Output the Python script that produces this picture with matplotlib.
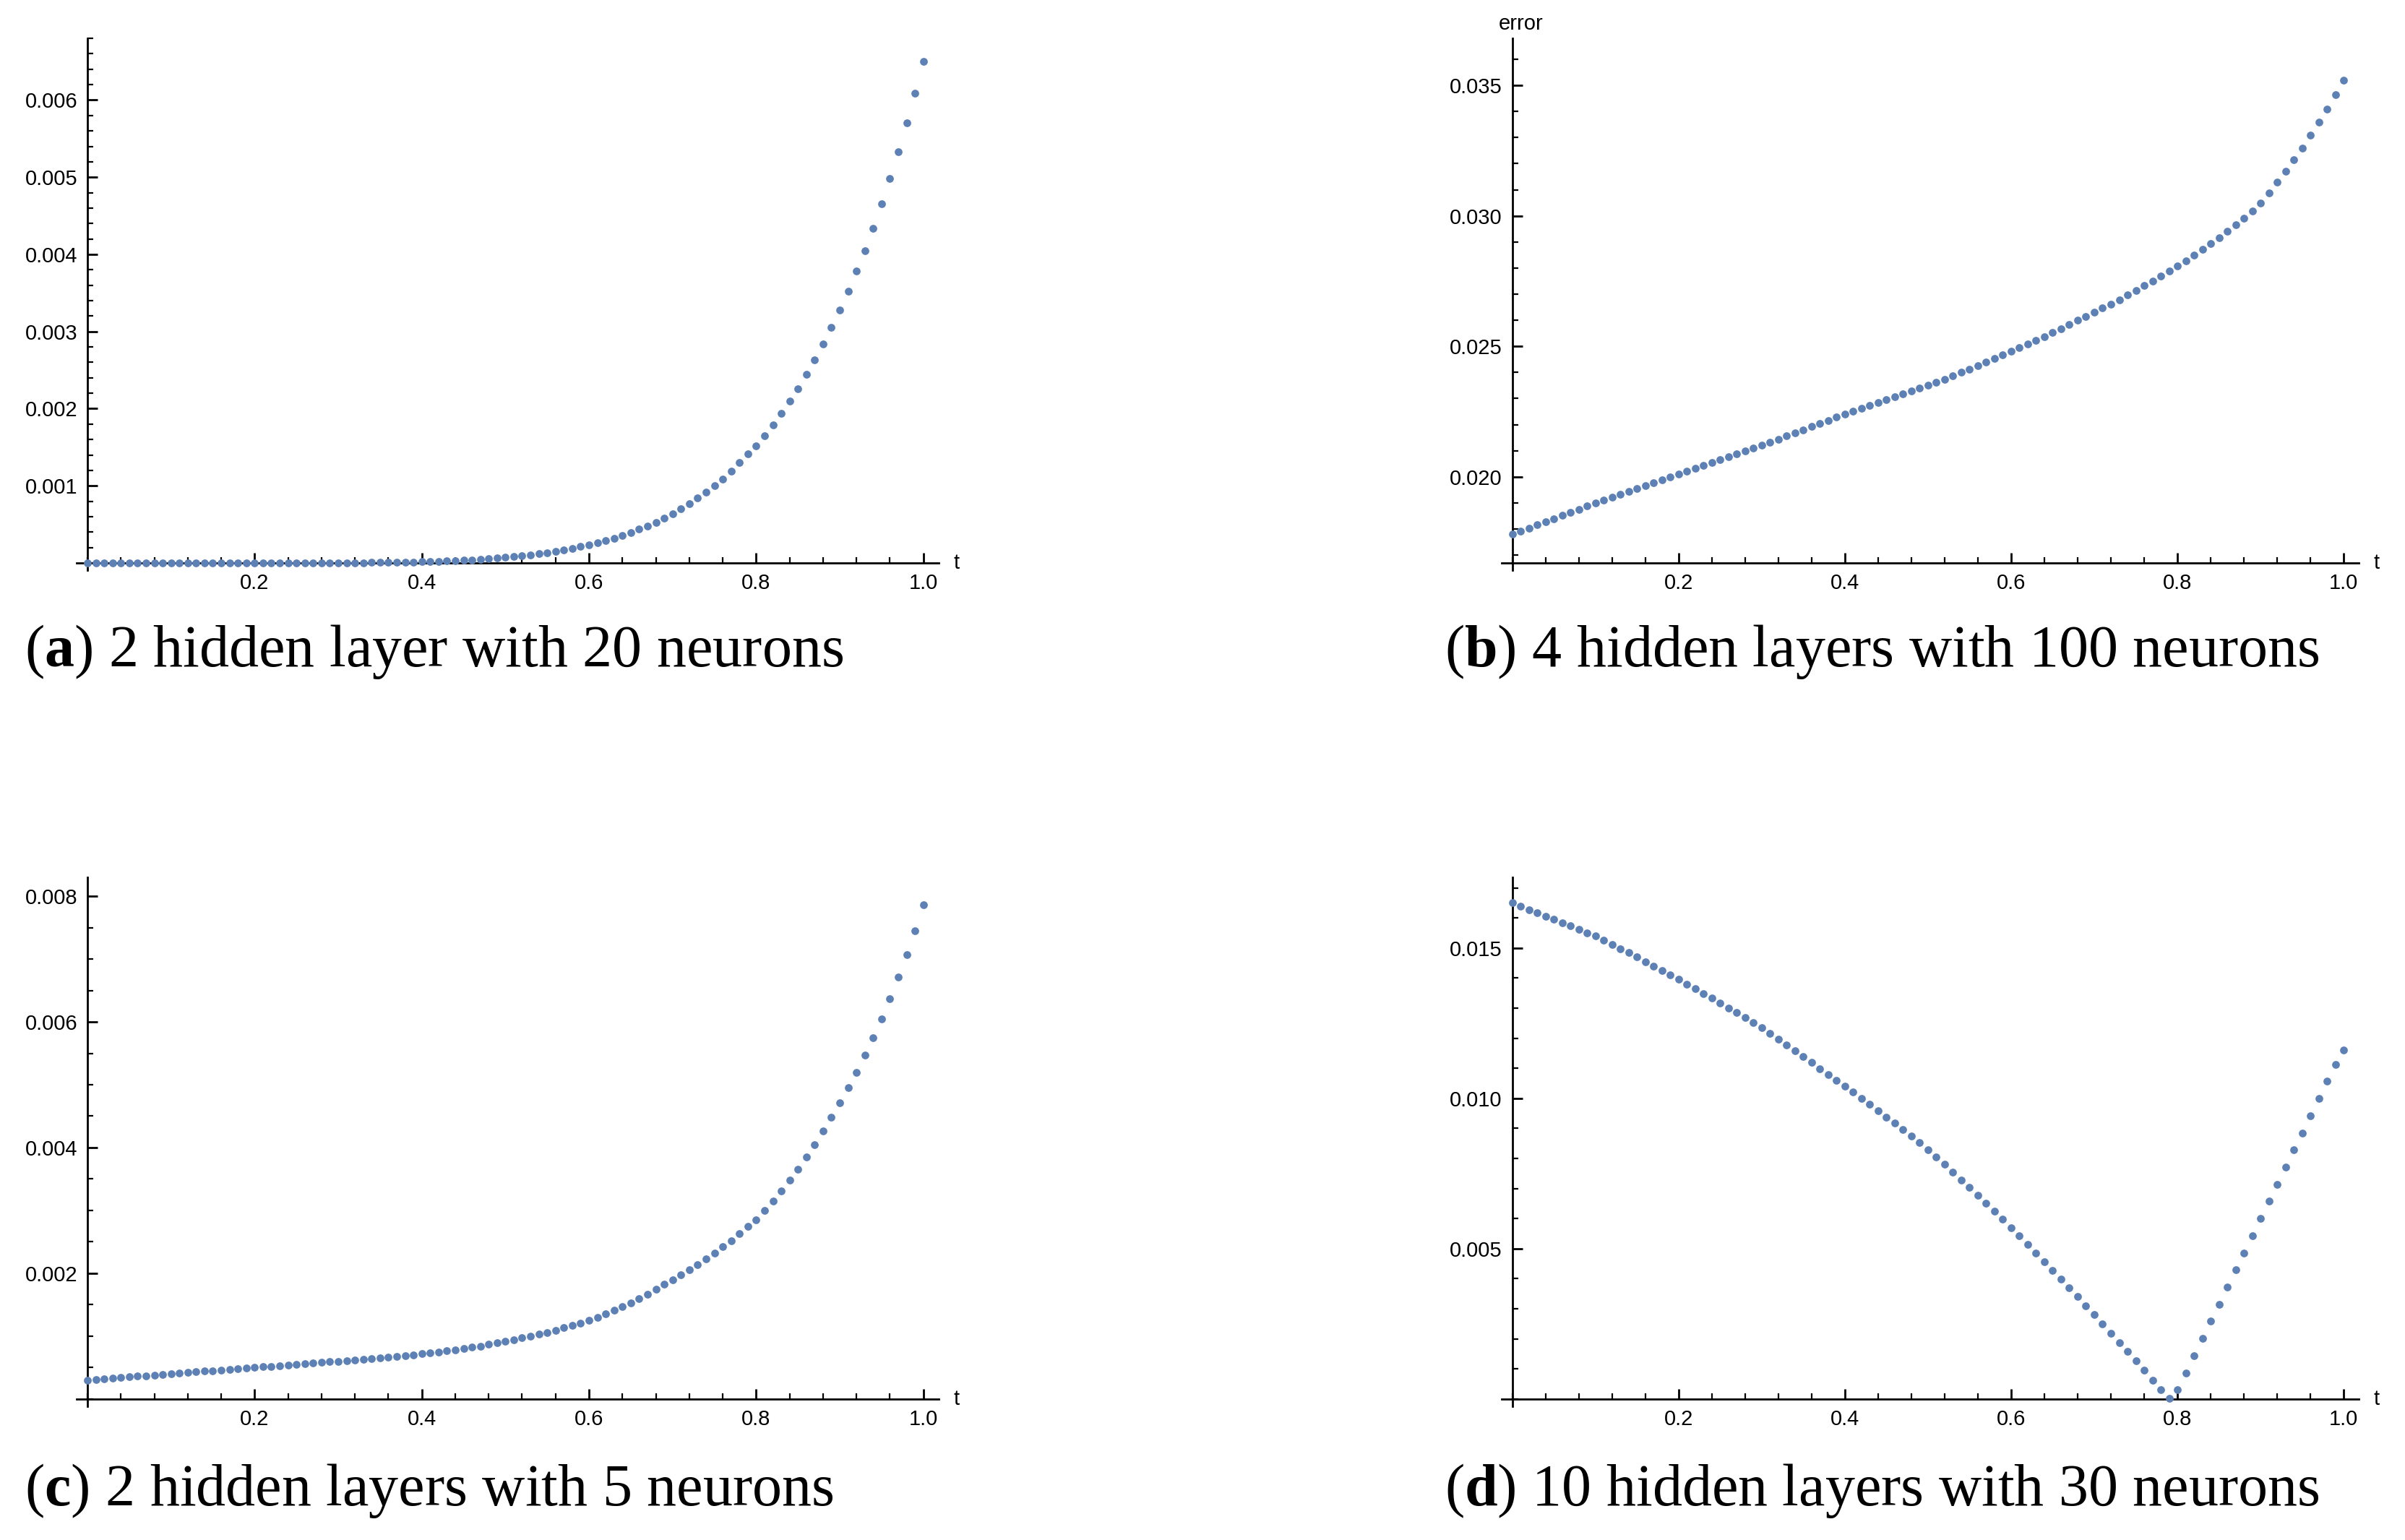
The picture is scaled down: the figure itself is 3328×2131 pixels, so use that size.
import matplotlib.pyplot as plt
import numpy as np
from matplotlib.ticker import MultipleLocator

plt.rcParams['mathtext.fontset'] = 'custom'
plt.rcParams['mathtext.bf'] = 'Liberation Serif:bold'
plt.rcParams['mathtext.rm'] = 'Liberation Serif'

t = [i / 100 for i in range(101)]

# panel (a), units of 1e-4
err_a = [0.0] * 20 + [
    0.00, 0.00, 0.01, 0.01, 0.01, 0.01, 0.01, 0.02, 0.02, 0.02,
    0.03, 0.03, 0.04, 0.04, 0.05, 0.07, 0.08, 0.09, 0.11, 0.13,
    0.17, 0.19, 0.22, 0.26, 0.30, 0.36, 0.41, 0.47, 0.54, 0.62,
    0.72, 0.82, 0.93, 1.05, 1.18, 1.33, 1.50, 1.69, 1.89, 2.11,
    2.35, 2.62, 2.91, 3.22, 3.56, 3.95, 4.36, 4.80, 5.28, 5.81,
    6.4, 7.0, 7.7, 8.4, 9.2, 10.0, 10.9, 11.9, 13.0, 14.1,
    15.2, 16.5, 17.9, 19.4, 21.0, 22.6, 24.4, 26.3, 28.4, 30.5,
    32.8, 35.2, 37.8, 40.5, 43.4, 46.6, 49.8, 53.3, 57.0, 60.9,
    65.0]

# panel (b), units of 1e-3
err_b = [
    17.80, 17.92, 18.04, 18.16, 18.28, 18.40, 18.52, 18.64, 18.76, 18.88,
    19.00, 19.11, 19.22, 19.33, 19.44, 19.55, 19.66, 19.77, 19.88, 19.99,
    20.10, 20.21, 20.32, 20.43, 20.54, 20.65, 20.76, 20.87, 20.98, 21.09,
    21.20, 21.32, 21.44, 21.56, 21.68, 21.80, 21.92, 22.04, 22.16, 22.28,
    22.40, 22.51, 22.62, 22.73, 22.84, 22.95, 23.06, 23.17, 23.28, 23.39,
    23.50, 23.62, 23.74, 23.87, 24.00, 24.13, 24.26, 24.39, 24.53, 24.67,
    24.80, 24.94, 25.08, 25.22, 25.37, 25.52, 25.67, 25.83, 25.99, 26.15,
    26.30, 26.46, 26.62, 26.79, 26.96, 27.14, 27.32, 27.50, 27.69, 27.88,
    28.08, 28.28, 28.49, 28.71, 28.93, 29.16, 29.40, 29.65, 29.91, 30.18,
    30.50, 30.88, 31.28, 31.70, 32.14, 32.60, 33.08, 33.58, 34.10, 34.64,
    35.20]

# panel (c), units of 1e-3
err_c = [
    0.30, 0.31, 0.32, 0.33, 0.34, 0.35, 0.36, 0.37, 0.38, 0.39,
    0.40, 0.41, 0.42, 0.43, 0.44, 0.45, 0.46, 0.47, 0.48, 0.49,
    0.50, 0.51, 0.52, 0.53, 0.54, 0.55, 0.56, 0.57, 0.58, 0.59,
    0.60, 0.61, 0.62, 0.63, 0.64, 0.65, 0.66, 0.68, 0.69, 0.70,
    0.72, 0.73, 0.75, 0.77, 0.78, 0.80, 0.82, 0.84, 0.87, 0.89,
    0.92, 0.94, 0.97, 1.00, 1.03, 1.06, 1.09, 1.13, 1.17, 1.21,
    1.25, 1.30, 1.35, 1.41, 1.47, 1.53, 1.60, 1.67, 1.75, 1.83,
    1.90, 1.98, 2.06, 2.14, 2.23, 2.32, 2.42, 2.52, 2.63, 2.74,
    2.85, 3.00, 3.15, 3.31, 3.48, 3.66, 3.85, 4.05, 4.26, 4.48,
    4.71, 4.95, 5.20, 5.47, 5.75, 6.05, 6.37, 6.71, 7.07, 7.45,
    7.86]

# panel (d), units of 1e-3
err_d = [
    16.50, 16.39, 16.28, 16.17, 16.06, 15.95, 15.84, 15.73, 15.62, 15.51,
    15.40, 15.26, 15.12, 14.98, 14.84, 14.70, 14.55, 14.40, 14.25, 14.10,
    13.95, 13.80, 13.65, 13.49, 13.33, 13.17, 13.01, 12.85, 12.68, 12.51,
    12.35, 12.16, 11.97, 11.78, 11.59, 11.39, 11.19, 10.99, 10.80, 10.60,
    10.40, 10.20, 10.00, 9.80, 9.59, 9.38, 9.17, 8.96, 8.74, 8.52,
    8.30, 8.05, 7.80, 7.55, 7.29, 7.03, 6.77, 6.51, 6.24, 5.97,
    5.70, 5.42, 5.14, 4.86, 4.57, 4.28, 3.99, 3.70, 3.40, 3.10,
    2.80, 2.50, 2.19, 1.88, 1.57, 1.26, 0.95, 0.63, 0.31, 0.02,
    0.30, 0.87, 1.44, 2.01, 2.58, 3.15, 3.72, 4.29, 4.86, 5.43,
    6.00, 6.57, 7.14, 7.71, 8.28, 8.85, 9.42, 9.99, 10.56, 11.13,
    11.60]

captions = [("a", "2 hidden layer with 20 neurons"),
            ("b", "4 hidden layers with 100 neurons"),
            ("c", "2 hidden layers with 5 neurons"),
            ("d", "10 hidden layers with 30 neurons")]

W, H = 1568, 1004
fig = plt.figure(figsize=(16.64, 10.655), dpi=200)
color = '#5E81B5'
tickfont = 'Liberation Sans'

panels = [
    # data, scale, ymin, ymax, major, minor, (x at t=0, x at t=1, top, bottom) ref px, caption y
    (err_a, 1e-4, 0.0, 0.0068, 0.001, 0.0002, (57, 602, 25, 367), 425),
    (err_b, 1e-3, 0.0167, 0.0368, 0.005, 0.001, (986, 1528, 25, 367), 425),
    (err_c, 1e-3, 0.0, 0.0083, 0.002, 0.0005, (57, 602, 572, 912), 972),
    (err_d, 1e-3, 0.0, 0.01735, 0.005, 0.001, (986, 1528, 572, 912), 972),
]

for i, (vals, sc, y0, y1, maj, mnr, box, capy) in enumerate(panels):
    x0, x1, tp, bt = box
    unit = x1 - x0
    xlo, xhi = -0.013, 1.018
    l = x0 + xlo * unit
    r = x0 + xhi * unit
    ypad = (y1 - y0) * 0.014
    ax = fig.add_axes([l / W, 1 - (bt + ypad / (y1 - y0) * (bt - tp)) / H,
                       (r - l) / W, (bt - tp) * (1 + ypad / (y1 - y0)) / H])
    y = np.array(vals) * sc
    ax.scatter(t, y, s=15, color=color, zorder=3, linewidths=0, clip_on=False)
    ax.set_xlim(xlo, xhi)
    ax.set_ylim(y0 - ypad, y1)
    for s in ['top', 'right']:
        ax.spines[s].set_visible(False)
    ax.spines['left'].set_position(('data', 0))
    ax.spines['bottom'].set_position(('data', y0))
    ax.xaxis.set_minor_locator(MultipleLocator(0.04))
    ax.yaxis.set_minor_locator(MultipleLocator(mnr))
    xt = [0.2, 0.4, 0.6, 0.8, 1.0]
    ax.set_xticks(xt)
    ax.set_xticklabels(['0.2', '0.4', '0.6', '0.8', '1.0'], family=tickfont)
    yt = [v for v in np.arange(0, y1 + 1e-9, maj) if v > y0 + 1e-9]
    ax.set_yticks(yt)
    ax.set_yticklabels(['%.3f' % v for v in yt], family=tickfont)
    ax.tick_params(which='major', direction='in', length=5, width=1.0,
                   labelsize=10.5, pad=5)
    ax.tick_params(which='minor', direction='in', length=3, width=0.8)
    for s in ['left', 'bottom']:
        ax.spines[s].set_linewidth(1.0)
    ax.patch.set_visible(False)
    ax.text(xhi + 0.018, y0, 't', fontsize=10.5, family=tickfont,
            ha='left', va='center')
    if i == 1:
        ax.text(-0.003, 1.008, 'error', transform=ax.transAxes, fontsize=10.5,
                family=tickfont, ha='left', va='bottom')
    letter, rest = captions[i]
    capx = 16 if i % 2 == 0 else 942
    fig.text(capx / W, 1 - capy / H,
             r'($\mathbf{' + letter + r'}$) ' + rest,
             fontsize=29.5, family='Liberation Serif', va='center', ha='left')

fig.savefig('out.png', dpi=200, facecolor='white')
